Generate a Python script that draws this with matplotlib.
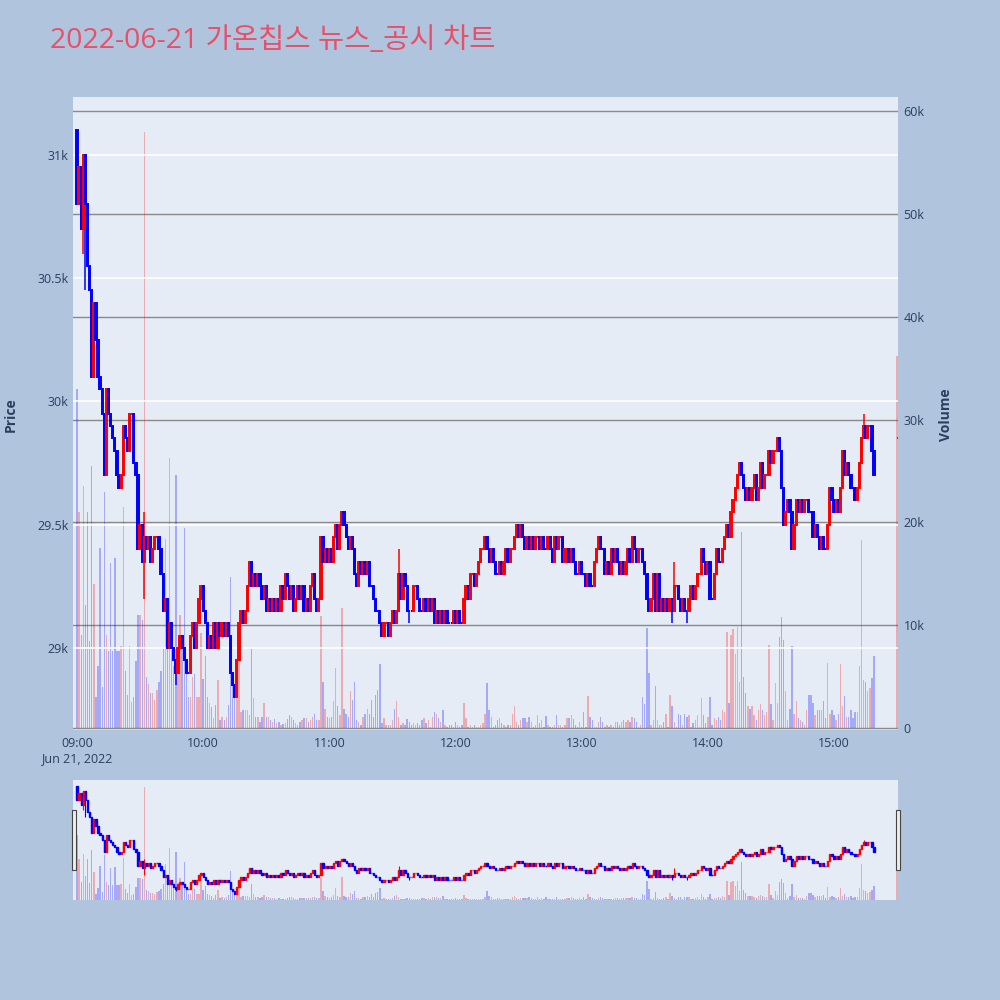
import numpy as np
import pandas as pd
import matplotlib
matplotlib.use("Agg")
import matplotlib.pyplot as plt
import matplotlib.dates as mdates
from matplotlib.patches import Rectangle
from matplotlib.ticker import FuncFormatter, FixedLocator

plt.rcParams['font.family'] = ['Open Sans', 'Noto Sans CJK KR', 'DejaVu Sans']

title = "2022-06-21 가온칩스 뉴스_공시 차트"

# 1분봉 종가 (09:00 ~ 15:19), 시가 = 직전 종가
first_open = 31100
closes = [
    30800, 30950, 30700, 31000, 30800, 30550, 30450, 30100, 30400, 30250,
    30100, 30050, 29950, 29700, 30050, 29950, 29900, 29850, 29800, 29700,
    29650, 29700, 29900, 29850, 29800, 29950, 29950, 29750, 29700, 29400,
    29500, 29350, 29450, 29400, 29450, 29350, 29400, 29450, 29450, 29400,
    29300, 29150, 29200, 29000, 29100, 29000, 28950, 28900, 29000, 29050,
    29000, 28950, 28900, 28900, 29050, 29100, 29000, 29100, 29200, 29250,
    29150, 29100, 29000, 29050, 29000, 29100, 29000, 29100, 29050, 29100,
    29050, 29100, 29050, 28900, 28850, 28800, 28950, 29100, 29150, 29100,
    29150, 29250, 29350, 29250, 29300, 29250, 29300, 29250, 29200, 29250,
    29150, 29200, 29150, 29200, 29150, 29200, 29150, 29250, 29200, 29300,
    29250, 29200, 29250, 29150, 29200, 29250, 29200, 29250, 29150, 29200,
    29150, 29250, 29300, 29200, 29150, 29200, 29450, 29350, 29400, 29350,
    29400, 29350, 29450, 29500, 29400, 29500, 29550, 29500, 29450, 29400,
    29450, 29400, 29300, 29250, 29350, 29300, 29350, 29300, 29350, 29250,
    29250, 29200, 29150, 29150, 29100, 29050, 29100, 29100, 29050, 29100,
    29150, 29100, 29150, 29300, 29200, 29300, 29250, 29150, 29150, 29150,
    29250, 29250, 29200, 29150, 29150, 29200, 29150, 29200, 29150, 29200,
    29100, 29150, 29100, 29150, 29100, 29150, 29100, 29100, 29100, 29150,
    29100, 29150, 29100, 29100, 29200, 29250, 29200, 29300, 29300, 29250,
    29300, 29350, 29400, 29400, 29450, 29400, 29350, 29400, 29350, 29300,
    29300, 29350, 29300, 29350, 29400, 29350, 29400, 29400, 29450, 29500,
    29450, 29500, 29450, 29400, 29450, 29400, 29450, 29400, 29450, 29450,
    29400, 29450, 29400, 29400, 29450, 29400, 29350, 29450, 29400, 29450,
    29450, 29350, 29400, 29400, 29350, 29400, 29350, 29300, 29300, 29350,
    29300, 29300, 29250, 29300, 29250, 29250, 29350, 29400, 29450, 29400,
    29400, 29300, 29350, 29300, 29400, 29350, 29400, 29350, 29300, 29350,
    29300, 29350, 29400, 29350, 29450, 29400, 29350, 29400, 29400, 29350,
    29300, 29200, 29150, 29200, 29300, 29150, 29300, 29150, 29200, 29150,
    29200, 29150, 29200, 29150, 29250, 29250, 29200, 29150, 29200, 29150,
    29150, 29200, 29250, 29200, 29250, 29300, 29300, 29400, 29350, 29300,
    29350, 29200, 29200, 29300, 29400, 29350, 29350, 29400, 29450, 29500,
    29450, 29550, 29600, 29650, 29700, 29750, 29700, 29650, 29600, 29650,
    29600, 29650, 29700, 29600, 29650, 29750, 29650, 29700, 29700, 29800,
    29750, 29800, 29800, 29850, 29800, 29650, 29500, 29550, 29600, 29550,
    29400, 29500, 29600, 29550, 29600, 29550, 29600, 29600, 29550, 29550,
    29450, 29500, 29450, 29400, 29450, 29400, 29400, 29500, 29650, 29600,
    29550, 29600, 29550, 29650, 29800, 29700, 29750, 29700, 29650, 29650,
    29600, 29650, 29750, 29850, 29900, 29850, 29900, 29900, 29800, 29700,
]

# 꼬리 (분 인덱스: 가격)
wick_hi = {32: 29550, 153: 29400, 284: 29350, 374: 29950}
wick_lo = {3: 30600, 4: 30450, 32: 29200, 47: 28850, 145: 29050,
           158: 29100, 283: 29100, 290: 29100}

# 거래량 (천 주)
volumes_k = [
    33.0, 21.0, 9.0, 23.5, 12.0, 21.0, 8.5, 25.5, 14.0, 3.0,
    6.0, 17.5, 4.0, 23.0, 9.0, 7.5, 16.0, 7.5, 16.5, 7.5,
    7.5, 8.0, 21.5, 5.5, 3.2, 8.0, 2.5, 3.0, 6.5, 11.0,
    11.0, 10.5, 58.0, 5.0, 4.3, 3.4, 3.4, 2.7, 3.7, 4.5,
    5.5, 7.9, 18.4, 11.5, 26.3, 7.6, 6.0, 24.6, 6.9, 11.0,
    8.9, 19.5, 6.0, 3.0, 3.0, 5.0, 5.3, 3.0, 3.0, 9.2,
    4.8, 7.0, 3.0, 2.4, 2.0, 1.0, 2.2, 4.7, 0.8, 1.1,
    0.8, 1.1, 2.2, 14.7, 4.5, 4.0, 2.9, 7.6, 1.6, 1.8,
    1.8, 1.8, 1.3, 7.8, 2.9, 1.1, 1.1, 0.6, 1.1, 2.4,
    1.1, 1.1, 0.8, 0.6, 0.85, 0.45, 0.6, 0.3, 0.4, 0.45,
    0.85, 1.3, 1.1, 0.8, 0.45, 0.3, 0.6, 0.8, 1.0, 0.95,
    0.6, 0.8, 1.1, 1.4, 0.8, 0.8, 10.9, 4.5, 1.9, 1.1,
    0.95, 1.1, 2.6, 5.8, 2.1, 1.3, 11.7, 1.9, 1.4, 1.1,
    3.6, 2.7, 4.5, 0.8, 0.6, 0.3, 1.1, 1.4, 1.9, 1.4,
    2.7, 1.1, 3.2, 3.7, 6.2, 0.45, 0.95, 0.3, 0.3, 0.3,
    0.8, 1.9, 2.6, 1.1, 0.3, 0.45, 0.3, 0.85, 0.6, 0.3,
    0.5, 0.3, 0.45, 0.3, 0.8, 0.95, 0.45, 0.8, 0.13, 1.1,
    1.6, 1.4, 0.95, 0.6, 1.8, 0.3, 0.13, 0.3, 0.3, 0.13,
    0.6, 0.3, 0.13, 0.3, 2.4, 0.95, 0.13, 0.3, 0.13, 0.3,
    0.13, 0.13, 0.3, 0.45, 1.4, 4.4, 1.8, 1.1, 0.13, 0.3,
    0.8, 0.95, 0.45, 0.3, 0.13, 0.3, 0.3, 1.4, 2.1, 0.6,
    0.3, 0.8, 0.95, 0.95, 0.6, 1.1, 0.6, 0.13, 0.3, 1.3,
    0.45, 0.8, 0.13, 1.2, 0.3, 0.13, 0.13, 0.3, 1.3, 0.3,
    0.3, 0.13, 0.3, 0.95, 1.0, 1.3, 0.85, 0.3, 0.13, 0.6,
    0.13, 1.6, 0.13, 3.1, 1.1, 0.8, 0.13, 0.13, 0.6, 1.1,
    0.6, 0.13, 0.3, 0.13, 0.3, 0.13, 0.6, 0.6, 0.3, 0.6,
    0.8, 0.6, 0.8, 0.6, 1.1, 1.0, 0.6, 0.13, 0.3, 3.0,
    2.3, 9.7, 5.4, 0.3, 0.8, 4.1, 0.8, 0.3, 0.3, 0.6,
    1.4, 0.13, 3.2, 2.1, 0.6, 0.13, 1.4, 1.3, 0.3, 1.4,
    1.1, 1.3, 0.13, 0.45, 0.8, 1.3, 0.13, 2.9, 1.3, 0.45,
    1.1, 3.0, 0.3, 0.95, 0.8, 1.1, 0.8, 1.8, 1.6, 9.3,
    2.4, 9.0, 9.6, 7.2, 9.8, 4.5, 19.1, 5.0, 3.4, 2.1,
    1.9, 2.1, 1.3, 0.8, 1.8, 2.3, 1.8, 1.3, 1.6, 8.1,
    2.3, 0.8, 4.4, 2.4, 8.9, 10.8, 8.6, 3.6, 0.8, 1.9,
    8.0, 1.4, 2.6, 0.95, 0.8, 0.6, 0.3, 1.8, 3.2, 3.2,
    2.4, 1.3, 1.8, 1.8, 1.8, 2.6, 0.95, 6.3, 1.4, 1.8,
    1.3, 0.8, 1.4, 6.2, 2.1, 3.1, 1.1, 1.1, 1.8, 0.95,
    1.6, 1.6, 6.0, 18.3, 4.7, 4.5, 3.6, 3.9, 4.9, 7.0,
]

# 15:30 종가 단일가
auction_time = "2022-06-21 15:30"
auction_price = 29850
auction_volume_k = 36.2

price_ticks = [29000, 29500, 30000, 30500, 31000]
volume_ticks = [0, 10000, 20000, 30000, 40000, 50000, 60000]

# ---- 데이터 정리 ----
times = list(pd.date_range("2022-06-21 09:00", periods=len(closes), freq="min"))
times.append(pd.Timestamp(auction_time))
opens = [first_open] + closes[:-1] + [auction_price]
cl = closes + [auction_price]
vols = np.array(volumes_k + [auction_volume_k]) * 1000
highs, lows, ups = [], [], []
prev_up = False
for i, (o, c) in enumerate(zip(opens, cl)):
    highs.append(max(o, c, wick_hi.get(i, o)))
    lows.append(min(o, c, wick_lo.get(i, o)))
    if c > o:
        up = True
    elif c < o:
        up = False
    else:
        up = c > cl[i - 1] if i > 0 and c != cl[i - 1] else prev_up
    ups.append(up)
    prev_up = up

x = mdates.date2num(times)
one_min = 1 / 1440
colors = ['#FF0000' if u else '#0000FF' for u in ups]
body_bottom = [min(o, c) for o, c in zip(opens, cl)]
body_height = [abs(c - o) for o, c in zip(opens, cl)]

t0 = mdates.date2num(pd.Timestamp("2022-06-21 09:00"))
xlim = (t0 - 1.9 * one_min, t0 + 390.4 * one_min)
price_lim = (28667, 31235)
vol_lim = (-190, 61360)


def draw(ax_v, ax_p, lw_body, lw_wick):
    ax_v.bar(x, vols, width=0.65 * one_min, color=colors, alpha=0.28, linewidth=0)
    ax_p.vlines(x, lows, highs, colors=colors, linewidth=lw_wick, zorder=3)
    ax_p.bar(x, body_height, bottom=body_bottom, width=0.6 * one_min,
             color=colors, edgecolor=colors, linewidth=lw_body, zorder=4)
    ax_v.set_xlim(*xlim)
    ax_v.set_ylim(*vol_lim)
    ax_p.set_ylim(*price_lim)
    for a in (ax_v, ax_p):
        for s in a.spines.values():
            s.set_visible(False)


fig = plt.figure(figsize=(10, 10), dpi=100, facecolor='#B0C4DE')

# 메인 차트
ax_v = fig.add_axes([0.073, 0.27, 0.825, 0.633])
ax_v.set_facecolor('#E5ECF6')
ax_p = ax_v.twinx()
ax_v.yaxis.tick_right()
ax_v.yaxis.set_label_position('right')
ax_p.yaxis.tick_left()
ax_p.yaxis.set_label_position('left')
draw(ax_v, ax_p, 1.4, 1.1)

ax_v.yaxis.set_major_locator(FixedLocator(volume_ticks))
ax_v.yaxis.set_major_formatter(FuncFormatter(lambda v, p: "0" if v == 0 else f"{v / 1000:g}k"))
ax_p.yaxis.set_major_locator(FixedLocator(price_ticks))
ax_p.yaxis.set_major_formatter(FuncFormatter(lambda v, p: f"{v / 1000:g}k"))
ax_v.grid(axis='y', color='#8a8a8a', linewidth=1)
ax_p.grid(axis='y', color='white', linewidth=1.2)
ax_v.set_axisbelow(True)
ax_p.set_axisbelow(True)

hour_ticks = [mdates.date2num(pd.Timestamp(f"2022-06-21 {h:02d}:00")) for h in range(9, 16)]
ax_v.set_xticks(hour_ticks)
ax_v.set_xticklabels([f"{h:02d}:00" + ("\nJun 21, 2022" if h == 9 else "") for h in range(9, 16)],
                     linespacing=1.25)

tick_color = '#2a3f5f'
ax_v.tick_params(axis='x', length=0, pad=5, labelsize=9, labelcolor=tick_color)
ax_v.tick_params(axis='y', length=0, pad=4, labelsize=9, labelcolor=tick_color)
ax_p.tick_params(axis='y', length=0, pad=3, labelsize=9, labelcolor=tick_color)

fig.text(0.011, 0.585, "Price", rotation=90, ha='center', va='center',
         fontsize=10, fontweight='bold', color=tick_color)
fig.text(0.946, 0.585, "Volume", rotation=90, ha='center', va='center',
         fontsize=10, fontweight='bold', color=tick_color)

fig.text(0.05, 0.959, title, fontsize=20.5, color='#E8506A', ha='left', va='center')

# 레인지 슬라이더
ax_sv = fig.add_axes([0.073, 0.10, 0.825, 0.12])
ax_sv.set_facecolor('#E5ECF6')
ax_sp = ax_sv.twinx()
draw(ax_sv, ax_sp, 1.0, 0.8)
for a in (ax_sv, ax_sp):
    a.set_xticks([])
    a.set_yticks([])

for hx in (0.0715, 0.8955):
    fig.patches.append(Rectangle((hx, 0.13), 0.004, 0.06, transform=fig.transFigure,
                                 facecolor='#eeeeee', edgecolor='#444444', linewidth=0.8))

fig.savefig("out.png", dpi=100, facecolor=fig.get_facecolor())
